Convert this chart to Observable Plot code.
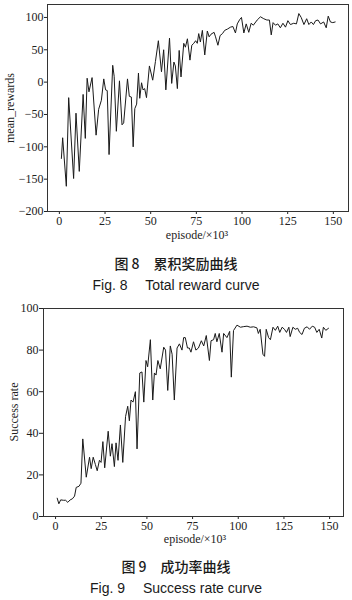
<!DOCTYPE html>
<html><head><meta charset="utf-8">
<script src="https://cdn.jsdelivr.net/npm/d3@7"></script>
<script src="https://cdn.jsdelivr.net/npm/@observablehq/plot@0.6"></script>
<style>
body{margin:0;background:#fff;width:352px;height:600px;position:relative;overflow:hidden}
.abs{position:absolute}
.serif{font-family:"Liberation Serif","DejaVu Serif",serif;font-size:12px;color:#222;line-height:14px;white-space:nowrap}
.cn{font-family:"Noto Sans CJK SC",sans-serif;font-size:14px;color:#1a1a1a;line-height:18px;font-weight:500;white-space:pre;text-align:center;width:352px;left:0}
.en{font-family:"Liberation Sans",Arial,sans-serif;font-size:14px;color:#1a1a1a;line-height:18px;white-space:pre;text-align:center;width:352px;left:0}
.ylab{transform:translate(-50%,-50%) rotate(-90deg)}
.xlab{transform:translate(-50%,-50%)}
</style>
</head><body>
<div id="c1" class="abs" style="left:0;top:0"></div>
<div id="c2" class="abs" style="left:0;top:296px"></div>
<div class="abs serif ylab" style="left:10px;top:108px">mean_rewards</div>
<div class="abs serif xlab" style="left:197px;top:235px">episode/×10³</div>
<div class="abs cn" style="top:254px">图 8　累积奖励曲线</div>
<div class="abs en" style="top:276px">Fig. 8　 Total reward curve</div>
<div class="abs serif ylab" style="left:14px;top:412px">Success rate</div>
<div class="abs serif xlab" style="left:195px;top:539px">episode/×10³</div>
<div class="abs cn" style="top:557px">图 9　成功率曲线</div>
<div class="abs en" style="top:579px">Fig. 9　 Success rate curve</div>
<script>
// Figure 8: total reward curve (episode ×10^3, mean reward)
const episodes1 = [1.1,1.8,3.8,5.1,7.8,9.1,10.9,13,14.2,15.2,16.2,17.9,20.1,21.5,23,24.3,25.3,26.2,27.2,29.2,30,31.2,32.9,34.3,35.2,37.3,38.3,39.4,40.4,41.3,42.3,43.3,44,45,45.8,46.7,47.7,49.3,51.1,52.6,54.2,55.9,57.1,58.3,60.3,61.5,62.7,63.5,64.6,65.6,66.6,68.1,69,70.1,71.5,72.5,73.6,74.6,75.5,76.3,77.2,78.3,79.6,81,82,83,84.7,85.5,86.8,88,89.3,90.5,92,93.7,95,96.4,97.4,98.8,99.7,101,102.3,103.7,105,106.2,108.3,110.1,111.9,113.6,115,116,117,118.3,119.6,121,122.4,123.8,125.1,126.5,128.3,129.8,131.1,132.4,133.9,135.4,136.6,137.9,139.1,140.3,141.6,143,144.7,146.1,147.2,148.4,149.7,151];
const rewards = [-118,-86,-161,-24,-149,-48,-138,-19,-87,6,-15,7,-82,-42,-28,5,-12,-13,-112,26,9,-76,2,-66,-63,5,-22,-23,-100,-41,-34,14,-25,-1,-12,-10,-24,25,3,32,64,16,50,-12,68,-2,31,25,-10,49,8,60,54,67,34,57,60,64,60,75,62,80,42,79,70,74,77,70,57,72,75,80,82,85,86,76,90,97,100,76,90,77,91,88,96,101,98,96,96,73,92,88,90,84,91,85,95,89,91,90,106,100,89,98,89,93,89,95,96,90,93,84,102,93,92,93];

// Figure 9: success rate curve
const episodes2 = [0.9,1.8,2.8,4.3,5.5,6.7,8,9.2,10.4,11.3,12.8,13.9,14.9,16.8,18.6,19.5,20.6,21.8,22.8,24,24.9,25.9,26.9,28.8,30,30.9,32.2,33.1,34.2,35.5,36.8,38.3,39.5,40.4,41.3,42.4,43.7,44.6,46.1,47.3,48.3,49.5,50.4,51.9,53.2,54.1,55,56,57.3,59.2,60.2,61.4,62.8,63.8,65,66.5,67.8,69.2,70.1,71,72.2,73.2,74.1,75.5,76.8,78.2,79.8,81.1,82.5,84.2,85.1,86.5,87.4,88.3,89.6,91.1,92,93.8,95.3,96.2,97.4,99.3,101.2,103,104.8,106.6,108.4,110.2,111,112,113.5,114.4,115.3,116.6,117.6,119,120.3,121.6,122.7,124,125.3,126.4,127.7,128.4,129.9,131.2,132.5,133.6,134.9,136.2,137.7,139,140.5,141.8,143,144.3,145.7,146.6,147.9,149.4];
const successRate = [8.8,6.1,8,7.8,7.8,6.8,8,8.5,9.8,14,14.5,16,37.3,18.9,28.5,23,28.5,25,22,27,26,36,23.4,41,29,35,24,35.4,27,44,26,48,53,46,56,55,60,32.5,69,69.5,55,75,72,85,56,69,68,75,71,81.4,80,60.6,82,78,56,81,83,80,86,86,81,81,79,84,80,81,84.5,82,87,75,84.5,85,88,84,88,79,88,86,89,67,89.4,92,91,91.3,91.5,91,91.2,90.7,88,90,78,77,90,86,85,91,89.5,91.5,88.5,91,90,88.5,91,86.5,91,90,90.5,88.5,87.5,90.5,91.2,90,91.5,91,88.5,90,85.8,91,89.5,90.5];

const xTicks = [0,25,50,75,100,125,150];
const y1Ticks = [-200,-150,-100,-50,0,50,100];
const y2Ticks = [0,20,40,60,80,100];

const data1 = episodes1.map((e,i)=>({episode:e, value:rewards[i]}));
const data2 = episodes2.map((e,i)=>({episode:e, value:successRate[i]}));

const baseStyle = {fontFamily:'"Liberation Serif","DejaVu Serif",serif', fontSize:"12px", color:"#222", background:"transparent", overflow:"visible"};

const p1 = Plot.plot({
  width:352, height:245,
  marginTop:4, marginBottom:34, marginLeft:47, marginRight:4,
  style: baseStyle,
  x:{domain:[-6.5,158.3], ticks:xTicks, tickSize:3, tickPadding:2, label:null},
  y:{domain:[-200,120], ticks:y1Ticks, tickSize:3, tickPadding:1, label:null},
  marks:[
    Plot.frame({stroke:"#333", strokeWidth:1}),
    Plot.line(data1,{x:"episode", y:"value", stroke:"#1a1a1a", strokeWidth:1})
  ]
});
document.getElementById("c1").appendChild(p1);

const p2 = Plot.plot({
  width:352, height:254,
  marginTop:12, marginBottom:34, marginLeft:43, marginRight:9,
  style: baseStyle,
  x:{domain:[-6.6,157.6], ticks:xTicks, tickSize:3, tickPadding:2, label:null},
  y:{domain:[0,100], ticks:y2Ticks, tickSize:4, tickPadding:1, label:null},
  marks:[
    Plot.frame({stroke:"#333", strokeWidth:1}),
    Plot.line(data2,{x:"episode", y:"value", stroke:"#1a1a1a", strokeWidth:1})
  ]
});
document.getElementById("c2").appendChild(p2);
</script>
</body></html>
